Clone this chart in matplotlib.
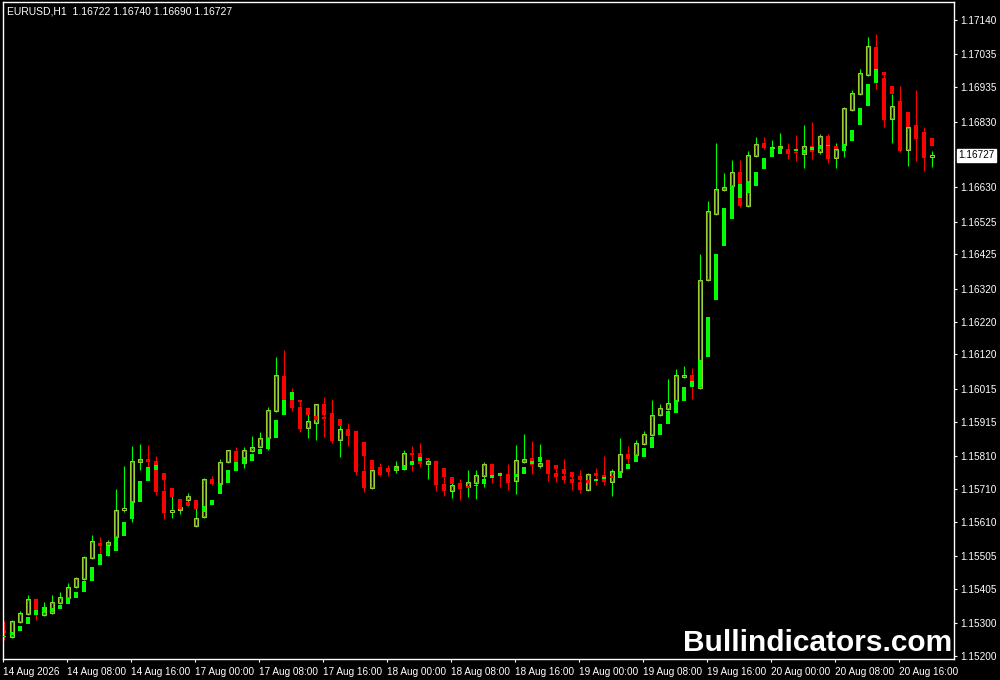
import numpy as np
import matplotlib
matplotlib.use('Agg')
import matplotlib.pyplot as plt

plt.rcParams['font.family'] = ['Liberation Sans', 'DejaVu Sans']

# EURUSD H1 bars (real candles)
open_ = [
    1.15279, 1.15258, 1.15304, 1.15328, 1.15374, 1.15325, 1.15331, 1.15362, 1.15377, 1.15410,
    1.15435, 1.15499, 1.15545, 1.15539, 1.15563, 1.15645, 1.15670, 1.15792, 1.15801, 1.15795,
    1.15703, 1.15639, 1.15645, 1.15676, 1.15597, 1.15624, 1.15740, 1.15725, 1.15792, 1.15825,
    1.15789, 1.15825, 1.15837, 1.15865, 1.15947, 1.16054, 1.15981, 1.15959, 1.15895, 1.15911,
    1.15969, 1.15941, 1.15859, 1.15892, 1.15886, 1.15764, 1.15712, 1.15767, 1.15767, 1.15767,
    1.15770, 1.15819, 1.15819, 1.15786, 1.15795, 1.15725, 1.15703, 1.15722, 1.15715, 1.15728,
    1.15749, 1.15786, 1.15755, 1.15755, 1.15734, 1.15792, 1.15804, 1.15780, 1.15798, 1.15758,
    1.15749, 1.15740, 1.15731, 1.15706, 1.15758, 1.15752, 1.15731, 1.15761, 1.15816, 1.15813,
    1.15847, 1.15874, 1.15935, 1.15953, 1.15978, 1.16051, 1.16057, 1.16017, 1.16347, 1.16548,
    1.16621, 1.16634, 1.16676, 1.16573, 1.16725, 1.16765, 1.16749, 1.16749, 1.16746, 1.16737,
    1.16731, 1.16756, 1.16737, 1.16786, 1.16719, 1.16759, 1.16865, 1.16914, 1.16972, 1.17057,
    1.16963, 1.16838, 1.16893, 1.16743, 1.16813, 1.16777, 1.16722]
high = [
    1.15307, 1.15310, 1.15337, 1.15386, 1.15377, 1.15365, 1.15386, 1.15395, 1.15423, 1.15441,
    1.15505, 1.15569, 1.15563, 1.15554, 1.15709, 1.15780, 1.15841, 1.15847, 1.15844, 1.15810,
    1.15758, 1.15712, 1.15679, 1.15697, 1.15676, 1.15743, 1.15749, 1.15801, 1.15828, 1.15837,
    1.15837, 1.15871, 1.15883, 1.15959, 1.16112, 1.16133, 1.16017, 1.15981, 1.15956, 1.15969,
    1.15990, 1.15984, 1.15923, 1.15911, 1.15889, 1.15853, 1.15798, 1.15789, 1.15783, 1.15795,
    1.15828, 1.15841, 1.15850, 1.15804, 1.15798, 1.15773, 1.15746, 1.15740, 1.15767, 1.15767,
    1.15792, 1.15789, 1.15761, 1.15786, 1.15844, 1.15877, 1.15856, 1.15847, 1.15801, 1.15783,
    1.15801, 1.15761, 1.15767, 1.15758, 1.15773, 1.15810, 1.15770, 1.15865, 1.15841, 1.15859,
    1.15886, 1.15981, 1.15969, 1.16045, 1.16075, 1.16085, 1.16078, 1.16426, 1.16588, 1.16765,
    1.16673, 1.16713, 1.16713, 1.16740, 1.16783, 1.16783, 1.16774, 1.16795, 1.16765, 1.16789,
    1.16820, 1.16829, 1.16792, 1.16792, 1.16765, 1.16874, 1.16926, 1.16990, 1.17088, 1.17097,
    1.16981, 1.16914, 1.16939, 1.16859, 1.16926, 1.16813, 1.16740]
low = [
    1.15249, 1.15255, 1.15301, 1.15325, 1.15310, 1.15322, 1.15328, 1.15360, 1.15374, 1.15407,
    1.15432, 1.15496, 1.15478, 1.15505, 1.15560, 1.15639, 1.15609, 1.15767, 1.15767, 1.15691,
    1.15618, 1.15621, 1.15633, 1.15658, 1.15593, 1.15621, 1.15722, 1.15722, 1.15789, 1.15789,
    1.15773, 1.15822, 1.15834, 1.15828, 1.15944, 1.15978, 1.15947, 1.15883, 1.15865, 1.15859,
    1.15868, 1.15850, 1.15807, 1.15841, 1.15752, 1.15700, 1.15709, 1.15749, 1.15749, 1.15758,
    1.15767, 1.15764, 1.15776, 1.15740, 1.15703, 1.15688, 1.15682, 1.15676, 1.15685, 1.15679,
    1.15715, 1.15728, 1.15715, 1.15706, 1.15694, 1.15789, 1.15755, 1.15773, 1.15734, 1.15731,
    1.15728, 1.15706, 1.15697, 1.15703, 1.15722, 1.15722, 1.15688, 1.15758, 1.15770, 1.15810,
    1.15844, 1.15871, 1.15932, 1.15950, 1.15975, 1.16048, 1.15984, 1.16014, 1.16344, 1.16545,
    1.16618, 1.16630, 1.16569, 1.16569, 1.16722, 1.16746, 1.16743, 1.16746, 1.16716, 1.16710,
    1.16688, 1.16716, 1.16731, 1.16704, 1.16688, 1.16722, 1.16862, 1.16911, 1.16969, 1.16929,
    1.16813, 1.16765, 1.16737, 1.16695, 1.16710, 1.16679, 1.16690]
close = [
    1.15270, 1.15307, 1.15331, 1.15374, 1.15325, 1.15349, 1.15365, 1.15380, 1.15410, 1.15438,
    1.15502, 1.15551, 1.15536, 1.15548, 1.15645, 1.15651, 1.15795, 1.15801, 1.15792, 1.15700,
    1.15636, 1.15645, 1.15654, 1.15688, 1.15621, 1.15740, 1.15725, 1.15792, 1.15828, 1.15792,
    1.15828, 1.15837, 1.15865, 1.15950, 1.16057, 1.15981, 1.15956, 1.15892, 1.15917, 1.15969,
    1.15935, 1.15856, 1.15892, 1.15877, 1.15761, 1.15712, 1.15767, 1.15752, 1.15761, 1.15780,
    1.15819, 1.15813, 1.15786, 1.15795, 1.15722, 1.15703, 1.15722, 1.15709, 1.15731, 1.15752,
    1.15786, 1.15743, 1.15749, 1.15728, 1.15798, 1.15801, 1.15783, 1.15789, 1.15755, 1.15746,
    1.15737, 1.15728, 1.15706, 1.15755, 1.15749, 1.15731, 1.15764, 1.15816, 1.15801, 1.15850,
    1.15877, 1.15935, 1.15956, 1.15972, 1.16057, 1.16057, 1.16036, 1.16347, 1.16557, 1.16624,
    1.16630, 1.16676, 1.16573, 1.16728, 1.16762, 1.16749, 1.16752, 1.16756, 1.16731, 1.16734,
    1.16756, 1.16737, 1.16786, 1.16716, 1.16746, 1.16871, 1.16917, 1.16978, 1.17061, 1.16990,
    1.16835, 1.16878, 1.16740, 1.16813, 1.16777, 1.16719, 1.16727]

# smoothed heiken ashi overlay (open / close of the filled bodies)
ha_open = [
    1.15258, 1.15264, 1.15276, 1.15298, 1.15325, 1.15331, 1.15334, 1.15343, 1.15359, 1.15377,
    1.15395, 1.15429, 1.15478, 1.15505, 1.15520, 1.15566, 1.15618, 1.15670, 1.15734, 1.15767,
    1.15758, 1.15712, 1.15679, 1.15670, 1.15676, 1.15639, 1.15661, 1.15694, 1.15728, 1.15764,
    1.15786, 1.15795, 1.15816, 1.15831, 1.15865, 1.15935, 1.15981, 1.15981, 1.15956, 1.15932,
    1.15929, 1.15926, 1.15923, 1.15892, 1.15868, 1.15853, 1.15798, 1.15776, 1.15773, 1.15770,
    1.15770, 1.15783, 1.15795, 1.15804, 1.15792, 1.15773, 1.15746, 1.15728, 1.15719, 1.15719,
    1.15725, 1.15743, 1.15749, 1.15749, 1.15746, 1.15755, 1.15786, 1.15792, 1.15792, 1.15783,
    1.15770, 1.15761, 1.15749, 1.15737, 1.15734, 1.15740, 1.15749, 1.15743, 1.15770, 1.15792,
    1.15807, 1.15834, 1.15874, 1.15908, 1.15941, 1.15978, 1.16020, 1.16020, 1.16112, 1.16286,
    1.16451, 1.16533, 1.16597, 1.16612, 1.16634, 1.16685, 1.16722, 1.16731, 1.16743, 1.16740,
    1.16734, 1.16743, 1.16746, 1.16756, 1.16756, 1.16740, 1.16771, 1.16820, 1.16878, 1.16948,
    1.16981, 1.16939, 1.16881, 1.16859, 1.16820, 1.16798, 1.16780]
ha_close = [
    1.15261, 1.15273, 1.15292, 1.15319, 1.15340, 1.15349, 1.15346, 1.15356, 1.15377, 1.15395,
    1.15429, 1.15471, 1.15511, 1.15536, 1.15563, 1.15609, 1.15673, 1.15734, 1.15776, 1.15783,
    1.15737, 1.15685, 1.15648, 1.15658, 1.15648, 1.15658, 1.15676, 1.15728, 1.15767, 1.15792,
    1.15807, 1.15816, 1.15831, 1.15865, 1.15920, 1.15981, 1.16005, 1.15975, 1.15935, 1.15920,
    1.15923, 1.15905, 1.15902, 1.15871, 1.15828, 1.15810, 1.15767, 1.15752, 1.15761, 1.15776,
    1.15783, 1.15795, 1.15807, 1.15798, 1.15767, 1.15746, 1.15725, 1.15709, 1.15712, 1.15722,
    1.15740, 1.15752, 1.15758, 1.15737, 1.15755, 1.15776, 1.15795, 1.15807, 1.15773, 1.15770,
    1.15755, 1.15746, 1.15737, 1.15728, 1.15740, 1.15746, 1.15743, 1.15764, 1.15786, 1.15813,
    1.15834, 1.15868, 1.15908, 1.15947, 1.15981, 1.16020, 1.16039, 1.16103, 1.16234, 1.16426,
    1.16566, 1.16634, 1.16640, 1.16649, 1.16676, 1.16719, 1.16749, 1.16752, 1.16731, 1.16746,
    1.16743, 1.16752, 1.16759, 1.16759, 1.16746, 1.16762, 1.16804, 1.16871, 1.16945, 1.16990,
    1.16972, 1.16914, 1.16850, 1.16813, 1.16777, 1.16774, 1.16756]

time_labels = ['14 Aug 2026', '14 Aug 08:00', '14 Aug 16:00', '17 Aug 00:00', '17 Aug 08:00',
               '17 Aug 16:00', '18 Aug 00:00', '18 Aug 08:00', '18 Aug 16:00', '19 Aug 00:00',
               '19 Aug 08:00', '19 Aug 16:00', '20 Aug 00:00', '20 Aug 08:00', '20 Aug 16:00']
price_ticks = [1.17140, 1.17035, 1.16935, 1.16830, 1.16630, 1.16525, 1.16425, 1.16320, 1.16220,
               1.16120, 1.16015, 1.15915, 1.15810, 1.15710, 1.15610, 1.15505, 1.15405, 1.15300, 1.15200]
header = 'EURUSD,H1  1.16722 1.16740 1.16690 1.16727'

o = np.array(open_)
h = np.array(high)
l = np.array(low)
c = np.array(close)
hao = np.array(ha_open)
hac = np.array(ha_close)
x = np.arange(len(o))
bull = c >= o
min_h = 0.000035

LIME = '#00ff00'
RED = '#ff0000'
OUTLINE = '#9acd32'

fig = plt.figure(figsize=(10, 6.8), dpi=100, facecolor='black')
ax = fig.add_axes([0.003, 0.0309, 0.951, 0.9662], facecolor='black')

# wicks
ax.vlines(x[bull], l[bull], h[bull], color=LIME, lw=0.8, zorder=1)
ax.vlines(x[~bull], l[~bull], h[~bull], color=RED, lw=0.8, zorder=1)

# real bodies: bull hollow (double outline), bear red
lo = np.minimum(o, c)
bh = np.maximum(np.abs(c - o), min_h)
ax.bar(x[bull], bh[bull], bottom=lo[bull], width=0.55, facecolor='black',
       edgecolor=OUTLINE, linewidth=0.8, zorder=2)
inset = 0.00003
inner_h = bh[bull] - 2 * inset
keep = inner_h > 0
ax.bar(x[bull][keep], inner_h[keep], bottom=lo[bull][keep] + inset, width=0.31,
       facecolor='black', edgecolor='#33cc11', linewidth=0.6, zorder=2)
ax.bar(x[~bull], bh[~bull], bottom=lo[~bull], width=0.62, color=RED, linewidth=0, zorder=2)

# overlay bodies
ha_up = hac >= hao
ha_lo = np.minimum(hao, hac)
ha_h = np.maximum(np.abs(hac - hao), min_h)
ax.bar(x, ha_h, bottom=ha_lo, width=0.62, color=np.where(ha_up, LIME, RED),
       linewidth=0, zorder=3)

ax.set_xlim(-0.125, 118.75)
ax.set_ylim(1.1519085, 1.171947)

for s in ax.spines.values():
    s.set_color('white')
    s.set_linewidth(1.0)

ax.yaxis.tick_right()
ax.set_yticks(price_ticks)
ax.set_yticklabels(['%.5f' % p for p in price_ticks])
ax.set_xticks(np.arange(len(time_labels)) * 8 - 0.1)
ax.set_xticklabels(time_labels, ha='left')
ax.tick_params(colors='white', labelsize=7.2, length=2.5, width=0.8, pad=2)
ax.tick_params(axis='x', pad=3)

# current price tag
ax.annotate('%.5f' % c[-1], xy=(1.0, c[-1]), xycoords=('axes fraction', 'data'),
            xytext=(3, 0), textcoords='offset points', va='center', ha='left',
            fontsize=7.2, color='black',
            bbox=dict(boxstyle='square,pad=0.15', fc='white', ec='white'),
            annotation_clip=False)

fig.text(0.007, 1 - 11 / 680, header, color='white', fontsize=7.5, va='center', ha='left')
fig.text(0.952, 1 - 651 / 680, 'Bullindicators.com', color='white', fontsize=21.5,
         fontweight='bold', ha='right', va='baseline')

fig.savefig('out.png', dpi=100, facecolor='black')
plt.close()
